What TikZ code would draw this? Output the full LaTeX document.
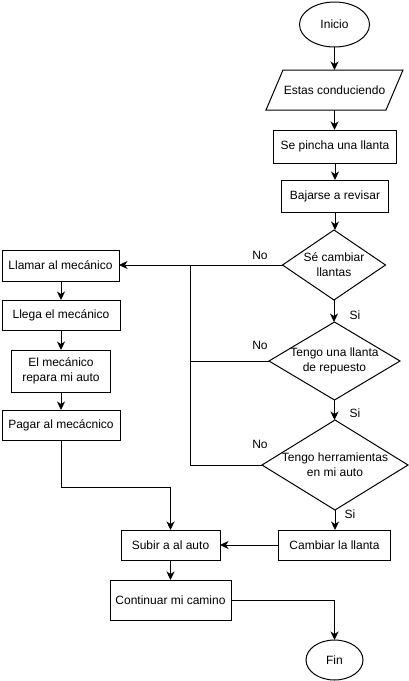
\documentclass[tikz,border=0pt]{standalone}
\usepackage{fontspec}
\setmainfont{Liberation Sans}
\usetikzlibrary{shapes.geometric,arrows.meta}
\begin{document}
\begin{tikzpicture}[x=1pt,y=-1pt,
  every node/.style={font=\fontsize{12}{15}\selectfont, inner sep=0pt, outer sep=0pt},
  box/.style={draw, line width=1pt, rectangle, align=center},
  dia/.style={draw, line width=1pt, diamond, inner sep=0pt},
  oval/.style={draw, line width=1pt, ellipse},
  conn/.style={line width=1pt},
  arr/.style={line width=1pt, -{Stealth[length=8.5pt,width=8pt,inset=2.5pt]}},
  lbl/.style={font=\fontsize{12}{15}\selectfont}]
\useasboundingbox (0,0) rectangle (409,681);
% right column
\node[oval, minimum width=70pt, minimum height=45pt] (ini) at (334.5,24.5) {Inicio};
\node[minimum width=137pt, minimum height=40pt] (cond) at (334.5,90) {Estas conduciendo};
\draw[line width=1pt] (283,70) -- (403,70) -- (386,110) -- (266,110) -- cycle;
\node[box, minimum width=123pt, minimum height=33pt] (pin) at (335,146.5) {Se pincha una llanta};
\node[box, minimum width=107pt, minimum height=32pt] (baj) at (335,196) {Bajarse a revisar};
\node[dia, minimum width=103pt, minimum height=70pt] (d1) at (334,265) {};
\node[align=center] (t1) at (334,265) {Sé cambiar\\llantas};
\node[dia, minimum width=131pt, minimum height=78pt] (d2) at (334.5,361) {};
\node[align=center] (t2) at (334.5,361) {Tengo una llanta\\de repuesto};
\node[dia, minimum width=146pt, minimum height=90pt] (d3) at (335,465) {};
\node[align=center] (t3) at (335,465) {Tengo herramientas\\en mi auto};
\node[box, minimum width=112pt, minimum height=30pt] (cam) at (334.5,545) {Cambiar la llanta};
\node[oval, minimum width=57pt, minimum height=40pt] (fin) at (334.5,660) {Fin};
% middle
\node[box, minimum width=99pt, minimum height=30pt] (sub) at (170.5,545) {Subir a al auto};
\node[box, minimum width=121pt, minimum height=40pt] (con) at (170.5,600) {Continuar mi camino};
% left column
\node[box, minimum width=117pt, minimum height=31pt] (lla) at (60.5,265.5) {Llamar al mecánico};
\node[box, minimum width=118pt, minimum height=30pt] (lle) at (61,315) {Llega el mecánico};
\node[box, minimum width=99pt, minimum height=42pt] (rep) at (61,371) {El mecánico\\repara mi auto};
\node[box, minimum width=118pt, minimum height=30pt] (pag) at (61,425) {Pagar al mecácnico};
% labels
\node[lbl] (no1) at (260,255) {No};
\node[lbl] (no2) at (260,345) {No};
\node[lbl] (no3) at (260,444) {No};
\node[lbl] (si1) at (355,315) {Si};
\node[lbl] (si2) at (355,413) {Si};
\node[lbl] (si3) at (350,514) {Si};
% coordinates
\coordinate (vx) at (190,0);
\coordinate (b1) at (61,487);
% connectors
\draw[arr] (ini.south) -- (cond.north -| ini.south);
\draw[arr] (cond.south -| ini.south) -- (pin.north -| ini.south);
\draw[arr] (pin.south) -- (baj.north);
\draw[arr] (baj.south) -- (d1.north -| baj.south);
\draw[arr] (d1.south) -- (d2.north -| d1.south);
\draw[arr] (d2.south) -- (d3.north -| d2.south);
\draw[arr] (d3.south) -- (cam.north -| d3.south);
\draw[arr] (d1.west) -- (lla.east |- d1.west);
\draw[conn] (d2.west) -- (d2.west -| vx);
\draw[conn] (d3.west) -- (d3.west -| vx) -- (d1.west -| vx);
\draw[arr] (lla.south -| lle.north) -- (lle.north);
\draw[arr] (lle.south) -- (rep.north);
\draw[arr] (rep.south) -- (pag.north);
\draw[arr] (pag.south) -- (b1) -| (sub.north);
\draw[arr] (cam.west) -- (sub.east);
\draw[arr] (sub.south) -- (con.north);
\draw[arr] (con.east) -| (fin.north);
\end{tikzpicture}
\end{document}
